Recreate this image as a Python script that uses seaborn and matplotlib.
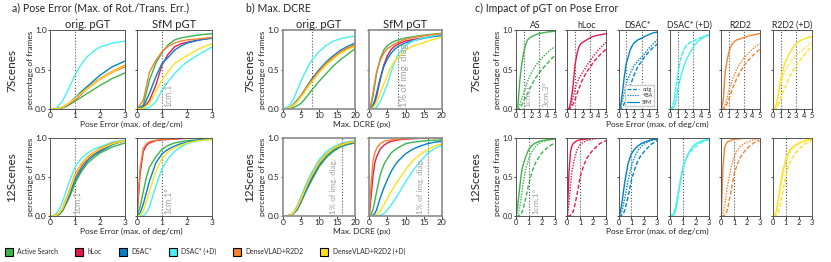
import numpy as np
import pandas as pd
import matplotlib
matplotlib.use('Agg')
import matplotlib.pyplot as plt
from matplotlib.patches import Patch
from matplotlib.lines import Line2D
import seaborn as sns

sns.set_style('ticks')
plt.rcParams['font.family'] = ['Lato', 'DejaVu Sans']

# ── data ─────────────────────────────────────────────────────────────────────
methods = ['Active Search', 'hLoc', 'DSAC*', 'DSAC* (+D)', 'DenseVLAD+R2D2', 'DenseVLAD+R2D2 (+D)']
short_names = ['AS', 'hLoc', 'DSAC*', 'DSAC* (+D)', 'R2D2', 'R2D2 (+D)']
colors = ['#3cb44b', '#e6194b', '#0082c8', '#46f0f0', '#f58231', '#ffe119']

# pose error (max of deg/cm), 7Scenes, one list per method (order as above)
pose7_x = [0, 0.25, 0.5, 0.75, 1, 1.25, 1.5, 1.75, 2, 2.5, 3, 3.5, 4, 4.5, 5]
pose7_orig = [
    [0, 0, 0.01, 0.05, 0.10, 0.15, 0.20, 0.25, 0.30, 0.39, 0.46, 0.52, 0.575, 0.63, 0.68],
    [0, 0, 0.02, 0.06, 0.12, 0.19, 0.26, 0.32, 0.38, 0.47, 0.54, 0.61, 0.665, 0.715, 0.76],
    [0, 0, 0.02, 0.07, 0.14, 0.22, 0.29, 0.36, 0.43, 0.54, 0.61, 0.68, 0.735, 0.785, 0.825],
    [0, 0.01, 0.10, 0.26, 0.43, 0.57, 0.67, 0.74, 0.79, 0.84, 0.865, 0.885, 0.905, 0.925, 0.94],
    [0, 0, 0.02, 0.07, 0.13, 0.20, 0.27, 0.33, 0.39, 0.48, 0.56, 0.62, 0.675, 0.72, 0.76],
    [0, 0, 0.02, 0.07, 0.13, 0.20, 0.26, 0.32, 0.38, 0.47, 0.55, 0.62, 0.68, 0.74, 0.80],
]
pose7_sfm = [
    [0, 0.05, 0.37, 0.58, 0.72, 0.82, 0.88, 0.905, 0.92, 0.945, 0.96, 0.97, 0.98, 0.985, 0.99],
    [0, 0.01, 0.11, 0.30, 0.56, 0.70, 0.79, 0.83, 0.85, 0.88, 0.91, 0.93, 0.94, 0.95, 0.96],
    [0, 0.03, 0.20, 0.41, 0.58, 0.66, 0.75, 0.80, 0.84, 0.88, 0.90, 0.93, 0.95, 0.97, 0.98],
    [0, 0, 0.02, 0.09, 0.24, 0.35, 0.45, 0.53, 0.60, 0.70, 0.79, 0.85, 0.89, 0.92, 0.94],
    [0, 0.11, 0.47, 0.62, 0.73, 0.80, 0.84, 0.865, 0.88, 0.895, 0.91, 0.93, 0.94, 0.95, 0.96],
    [0, 0.01, 0.07, 0.22, 0.37, 0.48, 0.58, 0.63, 0.68, 0.77, 0.83, 0.87, 0.89, 0.91, 0.92],
]
pose7_ba = [
    [0, 0.01, 0.06, 0.13, 0.21, 0.28, 0.35, 0.41, 0.46, 0.55, 0.61, 0.665, 0.71, 0.755, 0.795],
    [0, 0.01, 0.06, 0.15, 0.26, 0.33, 0.39, 0.43, 0.47, 0.55, 0.62, 0.69, 0.75, 0.80, 0.85],
    [0, 0.02, 0.10, 0.21, 0.33, 0.39, 0.45, 0.50, 0.55, 0.61, 0.66, 0.72, 0.78, 0.83, 0.88],
    [0, 0.01, 0.10, 0.27, 0.45, 0.59, 0.69, 0.76, 0.80, 0.85, 0.87, 0.895, 0.915, 0.935, 0.95],
    [0, 0.01, 0.06, 0.14, 0.24, 0.32, 0.39, 0.45, 0.51, 0.59, 0.66, 0.71, 0.76, 0.80, 0.83],
    [0, 0.02, 0.09, 0.20, 0.32, 0.40, 0.47, 0.52, 0.56, 0.63, 0.68, 0.73, 0.77, 0.81, 0.85],
]

# pose error, 12Scenes
pose12_x = [0, 0.125, 0.25, 0.375, 0.5, 0.75, 1, 1.25, 1.5, 1.75, 2, 2.5, 3]
pose12_orig = [
    [0, 0, 0.005, 0.02, 0.06, 0.22, 0.42, 0.57, 0.68, 0.75, 0.81, 0.89, 0.94],
    [0, 0, 0.01, 0.03, 0.08, 0.27, 0.50, 0.64, 0.74, 0.80, 0.85, 0.93, 0.97],
    [0, 0, 0.01, 0.03, 0.08, 0.25, 0.46, 0.60, 0.71, 0.78, 0.83, 0.92, 0.97],
    [0, 0.005, 0.03, 0.09, 0.18, 0.42, 0.63, 0.74, 0.81, 0.86, 0.89, 0.95, 0.98],
    [0, 0, 0.01, 0.04, 0.10, 0.31, 0.54, 0.67, 0.76, 0.82, 0.87, 0.94, 0.97],
    [0, 0, 0.01, 0.04, 0.09, 0.29, 0.52, 0.66, 0.75, 0.81, 0.86, 0.93, 0.97],
]
pose12_sfm = [
    [0, 0.12, 0.31, 0.50, 0.63, 0.76, 0.86, 0.91, 0.94, 0.955, 0.97, 0.98, 0.99],
    [0, 0.55, 0.83, 0.91, 0.94, 0.97, 0.98, 0.985, 0.99, 0.995, 1.0, 1.0, 1.0],
    [0, 0.04, 0.15, 0.30, 0.45, 0.68, 0.80, 0.86, 0.90, 0.93, 0.95, 0.98, 0.99],
    [0, 0, 0, 0.04, 0.12, 0.38, 0.61, 0.74, 0.83, 0.89, 0.93, 0.97, 0.985],
    [0, 0.62, 0.87, 0.93, 0.955, 0.975, 0.985, 0.99, 0.995, 1.0, 1.0, 1.0, 1.0],
    [0, 0.01, 0.06, 0.18, 0.32, 0.57, 0.74, 0.83, 0.88, 0.91, 0.94, 0.97, 0.985],
]
pose12_ba = [
    [0, 0.02, 0.08, 0.20, 0.36, 0.60, 0.74, 0.83, 0.89, 0.93, 0.95, 0.98, 0.99],
    [0, 0.15, 0.40, 0.58, 0.70, 0.85, 0.92, 0.95, 0.97, 0.98, 0.99, 1.0, 1.0],
    [0, 0.01, 0.06, 0.14, 0.24, 0.46, 0.64, 0.76, 0.84, 0.89, 0.93, 0.97, 0.99],
    [0, 0.005, 0.02, 0.07, 0.15, 0.40, 0.62, 0.74, 0.82, 0.88, 0.92, 0.96, 0.985],
    [0, 0.03, 0.12, 0.26, 0.40, 0.62, 0.76, 0.85, 0.90, 0.93, 0.95, 0.98, 0.99],
    [0, 0.01, 0.05, 0.14, 0.27, 0.52, 0.70, 0.80, 0.86, 0.90, 0.93, 0.97, 0.985],
]

# max. DCRE (px)
dcre_x = [0, 0.5, 1, 1.5, 2, 3, 4, 5, 6, 7, 8, 10, 12, 14, 16, 18, 20]
dcre7_orig = [
    [0, 0, 0, 0.005, 0.01, 0.02, 0.04, 0.07, 0.12, 0.18, 0.24, 0.35, 0.45, 0.55, 0.63, 0.70, 0.77],
    [0, 0, 0.005, 0.01, 0.02, 0.05, 0.10, 0.16, 0.22, 0.29, 0.35, 0.47, 0.57, 0.65, 0.72, 0.77, 0.81],
    [0, 0, 0.005, 0.01, 0.02, 0.06, 0.11, 0.17, 0.24, 0.31, 0.38, 0.50, 0.60, 0.68, 0.75, 0.80, 0.84],
    [0, 0.005, 0.02, 0.03, 0.05, 0.13, 0.24, 0.35, 0.45, 0.54, 0.62, 0.73, 0.81, 0.865, 0.895, 0.915, 0.93],
    [0, 0, 0.005, 0.01, 0.02, 0.05, 0.10, 0.16, 0.23, 0.30, 0.36, 0.48, 0.58, 0.66, 0.73, 0.78, 0.82],
    [0, 0, 0.005, 0.01, 0.02, 0.05, 0.09, 0.15, 0.21, 0.28, 0.34, 0.46, 0.56, 0.64, 0.71, 0.76, 0.80],
]
dcre7_sfm = [
    [0, 0.05, 0.16, 0.30, 0.45, 0.64, 0.75, 0.81, 0.84, 0.865, 0.88, 0.905, 0.92, 0.935, 0.945, 0.955, 0.965],
    [0, 0.01, 0.03, 0.08, 0.16, 0.37, 0.56, 0.68, 0.755, 0.80, 0.83, 0.865, 0.885, 0.90, 0.915, 0.93, 0.945],
    [0, 0.01, 0.05, 0.11, 0.20, 0.39, 0.54, 0.64, 0.71, 0.76, 0.80, 0.84, 0.87, 0.89, 0.91, 0.925, 0.935],
    [0, 0, 0, 0.01, 0.02, 0.09, 0.20, 0.32, 0.47, 0.60, 0.70, 0.81, 0.865, 0.895, 0.915, 0.935, 0.95],
    [0, 0.07, 0.20, 0.34, 0.47, 0.62, 0.71, 0.77, 0.80, 0.83, 0.85, 0.89, 0.91, 0.925, 0.94, 0.95, 0.96],
    [0, 0, 0.02, 0.05, 0.09, 0.20, 0.32, 0.43, 0.54, 0.61, 0.66, 0.75, 0.80, 0.83, 0.86, 0.89, 0.915],
]
dcre12_orig = [
    [0, 0, 0, 0.003, 0.008, 0.03, 0.08, 0.17, 0.27, 0.37, 0.46, 0.63, 0.75, 0.83, 0.89, 0.92, 0.94],
    [0, 0, 0, 0.004, 0.01, 0.04, 0.10, 0.20, 0.31, 0.42, 0.51, 0.67, 0.79, 0.86, 0.91, 0.94, 0.955],
    [0, 0, 0, 0.003, 0.008, 0.03, 0.09, 0.18, 0.29, 0.39, 0.48, 0.65, 0.77, 0.85, 0.90, 0.93, 0.95],
    [0, 0, 0, 0.005, 0.01, 0.05, 0.13, 0.24, 0.36, 0.47, 0.56, 0.72, 0.83, 0.89, 0.93, 0.955, 0.97],
    [0, 0, 0, 0.005, 0.01, 0.04, 0.12, 0.22, 0.33, 0.44, 0.53, 0.69, 0.80, 0.87, 0.92, 0.945, 0.96],
    [0, 0, 0, 0.005, 0.01, 0.04, 0.11, 0.21, 0.32, 0.43, 0.52, 0.68, 0.79, 0.87, 0.91, 0.94, 0.96],
]
dcre12_sfm = [
    [0, 0.02, 0.08, 0.19, 0.31, 0.53, 0.66, 0.74, 0.81, 0.85, 0.88, 0.93, 0.95, 0.96, 0.97, 0.975, 0.98],
    [0, 0.25, 0.51, 0.68, 0.76, 0.86, 0.91, 0.94, 0.96, 0.97, 0.98, 0.99, 0.995, 1, 1, 1, 1],
    [0, 0, 0.01, 0.03, 0.08, 0.23, 0.36, 0.47, 0.57, 0.65, 0.71, 0.80, 0.86, 0.90, 0.93, 0.95, 0.96],
    [0, 0, 0, 0, 0.005, 0.01, 0.03, 0.08, 0.14, 0.21, 0.28, 0.44, 0.58, 0.70, 0.80, 0.87, 0.91],
    [0, 0.42, 0.70, 0.81, 0.87, 0.93, 0.96, 0.97, 0.98, 0.985, 0.99, 0.995, 1, 1, 1, 1, 1],
    [0, 0, 0, 0.005, 0.02, 0.06, 0.14, 0.23, 0.31, 0.39, 0.46, 0.60, 0.71, 0.79, 0.85, 0.90, 0.93],
]

pgt_names = ['orig', '+BA', 'SfM']
pgt_dashes = {'orig': (3, 1.5), '+BA': (1, 1), 'SfM': ''}


def long_frame(x, series, names, key):
    parts = [pd.DataFrame({'x': x, 'y': ys, key: name}) for name, ys in zip(names, series)]
    return pd.concat(parts, ignore_index=True)


def style_axis(ax, xmax, xticks, first, tick_size=6.0, spine_col='#555555', spine_lw=0.7):
    ax.set_xlim(0, xmax)
    ax.set_ylim(0, 1)
    ax.set_xticks(xticks)
    ax.set_yticks([0, 0.5, 1.0])
    ax.set_xlabel('')
    if first:
        ax.set_yticklabels(['0.0', '0.5', '1.0'])
        ax.set_ylabel('percentage of frames', fontsize=6, labelpad=1)
    else:
        ax.set_yticklabels([])
        ax.set_ylabel('')
    ax.tick_params(length=1.8, width=0.6, pad=0.6, labelsize=tick_size, colors='#222222')
    for sp in ax.spines.values():
        sp.set_color(spine_col)
        sp.set_linewidth(spine_lw)


def vline(ax, x):
    ax.axvline(x, color='#555555', linestyle=':', linewidth=0.8, zorder=1)


def note(ax, x, text, size=6):
    ax.text(x, 0.03, text, rotation=90, ha='center', va='bottom', fontsize=size, color='#a0a0a0')


fig = plt.figure(figsize=(8.31, 2.62), dpi=100)
W, H = 831.0, 262.0


def add_ax(left_px, width_px, row):
    top, bottom = [(30.5, 109.0), (138.3, 216.0)][row]
    return fig.add_axes([left_px / W, 1 - bottom / H, width_px / W, (bottom - top) / H])


# ── a) pose error ────────────────────────────────────────────────────────────
for row, (xs, orig, sfm) in enumerate([(pose7_x, pose7_orig, pose7_sfm),
                                       (pose12_x, pose12_orig, pose12_sfm)]):
    for col, (series, left) in enumerate([(orig, 50), (sfm, 137)]):
        ax = add_ax(left, 75, row)
        df = long_frame(xs, series, methods, 'method')
        sns.lineplot(data=df, x='x', y='y', hue='method', hue_order=methods,
                     palette=colors, estimator=None, linewidth=1.0, legend=False, ax=ax)
        vline(ax, 1)
        style_axis(ax, 3, [0, 1, 2, 3], col == 0)
        if row == 0:
            ax.set_title(['orig. pGT', 'SfM pGT'][col], fontsize=8, pad=2)
        if not (row == 0 and col == 0):
            note(ax, 1.25 if col == 1 else 1.12, '1cm,1°', 6.2)

# ── b) max. DCRE ─────────────────────────────────────────────────────────────
for row, (orig, sfm, diag) in enumerate([(dcre7_orig, dcre7_sfm, 8.0),
                                         (dcre12_orig, dcre12_sfm, 16.3)]):
    for col, (series, left) in enumerate([(orig, 282.7), (sfm, 369.3)]):
        ax = add_ax(left, 72.5, row)
        df = long_frame(dcre_x, series, methods, 'method')
        sns.lineplot(data=df, x='x', y='y', hue='method', hue_order=methods,
                     palette=colors, estimator=None, linewidth=1.0, legend=False, ax=ax)
        vline(ax, diag)
        style_axis(ax, 20, [0, 5, 10, 15, 20], col == 0, 6.0, '#8a8a8a', 1.2)
        if row == 0:
            ax.set_title(['orig. pGT', 'SfM pGT'][col], fontsize=8, pad=2)
            if col == 1:
                note(ax, 9.8, '1% of img. diag.', 6.8)
        else:
            note(ax, 14.0, '1% of img. diag.', 5.8)

# ── c) impact of pGT ─────────────────────────────────────────────────────────
c_lefts = [516, 567.3, 618.5, 670, 721.3, 773]
for row, (xs, orig, ba, sfm, xmax) in enumerate([(pose7_x, pose7_orig, pose7_ba, pose7_sfm, 5),
                                                 (pose12_x, pose12_orig, pose12_ba, pose12_sfm, 3)]):
    for i, left in enumerate(c_lefts):
        ax = add_ax(left, 38.6, row)
        df = long_frame(xs, [orig[i], ba[i], sfm[i]], pgt_names, 'pgt')
        sns.lineplot(data=df, x='x', y='y', style='pgt', style_order=pgt_names,
                     dashes=pgt_dashes, color=colors[i], estimator=None,
                     linewidth=1.0, legend=False, ax=ax)
        vline(ax, 1)
        if row == 0:
            vline(ax, 3)
            ax.set_title(short_names[i], fontsize=6.3, pad=2)
        style_axis(ax, xmax, list(range(xmax + 1)), i == 0, 5.3)
        if i == 0:
            note(ax, 1.5, '1cm,1°', 6.0)
            if row == 0:
                note(ax, 3.9, '3cm,3°', 6.0)
        if row == 0 and i == 2:
            hands = [Line2D([], [], color=colors[2], lw=0.9, dashes=(3, 1.5)),
                     Line2D([], [], color=colors[2], lw=0.9, dashes=(1, 1)),
                     Line2D([], [], color=colors[2], lw=0.9)]
            ax.legend(hands, pgt_names, loc='lower right', fontsize=4, handlelength=2.2,
                      labelspacing=0.25, borderpad=0.3, handletextpad=0.6,
                      framealpha=1, edgecolor='#cccccc', fancybox=False)

# ── figure texts ─────────────────────────────────────────────────────────────
fig.text(12 / W, 1 - 8 / H, 'a) Pose Error (Max. of Rot./Trans. Err.)', fontsize=7.6, va='center')
fig.text(246.5 / W, 1 - 8 / H, 'b) Max. DCRE', fontsize=7.6, va='center')
fig.text(475 / W, 1 - 8 / H, 'c) Impact of pGT on Pose Error', fontsize=7.6, va='center')

for xc in [12, 250, 475.5]:
    fig.text(xc / W, 1 - 70 / H, '7Scenes', rotation=90, fontsize=8.5, ha='center', va='center')
    fig.text(xc / W, 1 - 177 / H, '12Scenes', rotation=90, fontsize=8.5, ha='center', va='center')

for yc in [124.5, 231]:
    fig.text(131 / W, 1 - yc / H, 'Pose Error (max. of deg/cm)', fontsize=6.0, ha='center', va='center')
    fig.text(362 / W, 1 - yc / H, 'Max. DCRE (px)', fontsize=6.0, ha='center', va='center')
    fig.text(657 / W, 1 - yc / H, 'Pose Error (max. of deg/cm)', fontsize=6.0, ha='center', va='center')

handles = [Patch(facecolor=c, edgecolor='black', linewidth=0.8) for c in colors]
fig.legend(handles, methods, loc='center left', bbox_to_anchor=(5 / W, 1 - 252 / H), ncol=6,
           frameon=False, fontsize=4.9, handlelength=1.2, handleheight=1.5,
           handletextpad=0.6, columnspacing=2.5, borderaxespad=0, borderpad=0)

fig.savefig('out.png', dpi=100)
